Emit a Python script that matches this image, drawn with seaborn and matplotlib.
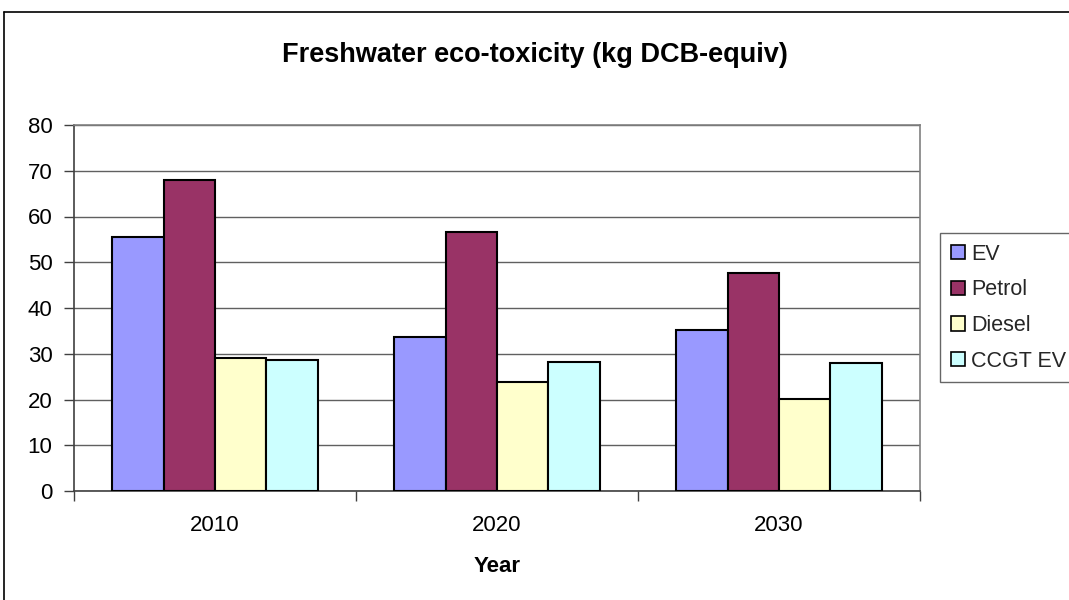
import matplotlib
matplotlib.use("Agg")
import matplotlib.pyplot as plt
from matplotlib.lines import Line2D
import seaborn as sns
import pandas as pd

years = ["2010", "2020", "2030"]
series = ["EV", "Petrol", "Diesel", "CCGT EV"]
ev = [55.6, 33.6, 35.3]
petrol = [68.0, 56.7, 47.7]
diesel = [29.0, 23.8, 20.1]
ccgt_ev = [28.7, 28.2, 27.9]
colors = ["#9999FF", "#993366", "#FFFFCC", "#CCFFFF"]

rows = []
for name, vals in zip(series, [ev, petrol, diesel, ccgt_ev]):
    for y, v in zip(years, vals):
        rows.append({"Year": y, "Fuel": name, "Value": v})
df = pd.DataFrame(rows)

sns.set_theme(style="white")
plt.rcParams["font.family"] = ["Liberation Sans", "DejaVu Sans"]

fig = plt.figure(figsize=(10.69, 6.0), dpi=100)
ax = fig.add_axes([74 / 1069, 1 - 491 / 600, (920 - 74) / 1069, (491 - 125) / 600])

sns.barplot(data=df, x="Year", y="Value", hue="Fuel", order=years,
            hue_order=series, palette=colors, width=0.73, gap=0,
            edgecolor="black", linewidth=1.5, saturation=1, ax=ax,
            legend=True, zorder=3)

ax.set_ylim(0, 80)
ax.set_xlim(-0.5, 2.5)
ax.set_yticks(range(0, 81, 10))
ax.yaxis.grid(True, color="#606060", linewidth=1, zorder=0)
ax.set_axisbelow(True)

ax.tick_params(axis="y", which="major", length=7, width=1, color="#404040",
               direction="out", labelsize=16, pad=8.5, left=True,
               labelcolor="black")
ax.tick_params(axis="x", which="major", length=0, labelsize=16, pad=17,
               labelcolor="black")
ax.set_xticks([-0.5, 0.5, 1.5, 2.5], minor=True)
ax.tick_params(axis="x", which="minor", length=7, width=1, color="#404040",
               direction="out", bottom=True)

for side in ["left", "bottom"]:
    ax.spines[side].set_color("#404040")
    ax.spines[side].set_linewidth(1.2)
for side in ["top", "right"]:
    ax.spines[side].set_color("#808080")
    ax.spines[side].set_linewidth(1.2)

ax.set_ylabel("")
ax.set_xlabel("Year", fontsize=16, fontweight="bold", labelpad=15,
              color="black")

fig.text(535 / 1069, 1 - 55 / 600, "Freshwater eco-toxicity (kg DCB-equiv)",
         ha="center", va="center", fontsize=19.5, fontweight="bold",
         color="black")

handles, labels = ax.get_legend_handles_labels()
ax.get_legend().remove()
leg = fig.legend(handles, labels, loc="upper left",
                 bbox_to_anchor=(940 / 1069, 1 - 233 / 600),
                 frameon=True, fancybox=False, fontsize=15.5,
                 handlelength=0.65, handleheight=0.65, handletextpad=0.3,
                 labelspacing=0.68, borderpad=0.5, borderaxespad=0)
leg.get_frame().set_edgecolor("#404040")
leg.get_frame().set_linewidth(1)
for h in leg.legend_handles:
    h.set_edgecolor("black")
    h.set_linewidth(1.2)

# chart frame
fig.add_artist(Line2D([4 / 1069, 4 / 1069], [0, 1 - 12 / 600], color="black",
                      linewidth=1.2, transform=fig.transFigure))
fig.add_artist(Line2D([4 / 1069, 1], [1 - 12 / 600, 1 - 12 / 600], color="black",
                      linewidth=1.2, transform=fig.transFigure))

fig.savefig("out.png", dpi=100, facecolor="white")
